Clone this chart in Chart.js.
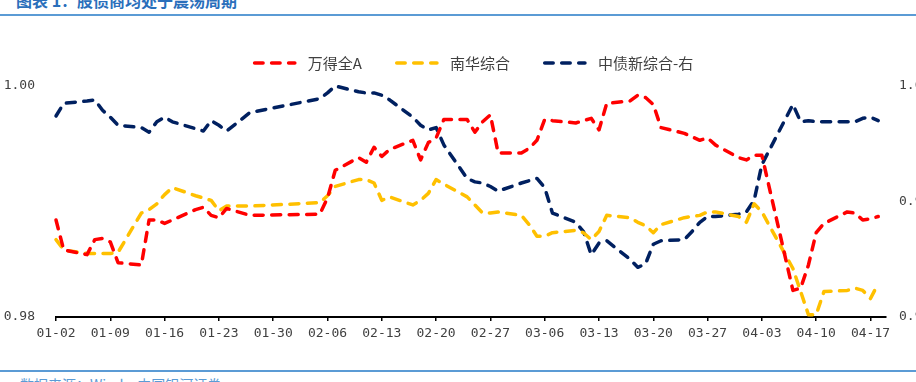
<!DOCTYPE html>
<html><head><meta charset="utf-8">
<script src="https://cdn.jsdelivr.net/npm/chart.js@4"></script>
<style>
html,body{margin:0;padding:0;background:#fff;overflow:hidden;width:916px;height:382px;}
#wrap{position:relative;width:916px;height:382px;overflow:hidden;background:#fff;}
#title{position:absolute;left:16px;top:-8px;font:bold 16px/16px "Noto Sans CJK SC";color:#2a6fbb;white-space:nowrap;}
.rule{position:absolute;left:0;width:916px;height:2px;background:#5b9bd5;}
#src{position:absolute;left:20px;top:377px;font:14px/14px "Noto Sans CJK SC";color:#5b9bd5;white-space:nowrap;}
#c{position:absolute;left:0;top:0;}
</style></head>
<body><div id="wrap">
<div id="title">图表 1：股债商均处于震荡周期</div>
<div class="rule" style="top:14px"></div>
<div class="rule" style="top:370px"></div>
<div id="src">数据来源：Wind，中国银河证券</div>
<canvas id="c" width="960" height="382"></canvas>
</div>
<script>
const dates = ["01-02","01-03","01-06","01-07","01-08","01-09","01-10","01-13","01-14","01-15","01-16","01-17","01-20","01-21","01-22","01-23","01-24","01-27",
"02-05","02-06","02-07","02-10","02-11","02-12","02-13","02-14","02-17","02-18","02-19","02-20","02-21","02-24","02-25","02-26","02-27","02-28",
"03-03","03-04","03-05","03-06","03-07","03-10","03-11","03-12","03-13","03-14","03-17","03-18","03-19","03-20","03-21","03-24","03-25","03-26","03-27","03-28","03-31",
"04-01","04-02","04-03","04-07","04-08","04-09","04-10","04-11","04-14","04-15","04-16","04-17","04-18"];

const windA = [0.9884,0.9858,0.9854,0.9867,0.9868,0.9865,0.9847,0.9845,0.9884,0.9884,0.9881,0.9884,0.9893,0.9895,0.9888,0.9886,0.9894,0.9888,
0.9889,0.9903,0.9927,0.9938,0.9934,0.9947,0.9939,0.9945,0.9953,0.9936,0.9951,0.9955,0.9971,0.9971,0.9960,0.9969,0.9975,0.9942,
0.9942,0.9946,0.9953,0.9971,0.9970,0.9968,0.9970,0.9972,0.9962,0.9985,0.9987,0.9992,0.9990,0.9984,0.9964,0.9959,0.9956,0.9953,0.9955,0.9949,0.9938,
0.9936,0.9940,0.9940,0.9823,0.9825,0.9845,0.9873,0.9881,0.9891,0.9890,0.9884,0.9885,0.9887];

const nanhua = [0.9867,0.9858,0.9855,0.9855,0.9855,0.9855,0.9856,0.9890,0.9893,0.9898,0.9906,0.9912,0.9905,0.9903,0.9901,0.9892,0.9896,0.9896,
0.9899,0.9905,0.9913,0.9919,0.9919,0.9916,0.9901,0.9904,0.9897,0.9901,0.9907,0.9919,0.9915,0.9904,0.9897,0.9890,0.9890,0.9891,
0.9888,0.9880,0.9870,0.9870,0.9873,0.9875,0.9873,0.9867,0.9874,0.9888,0.9886,0.9882,0.9879,0.9873,0.9880,0.9886,0.9887,0.9888,0.9891,0.9891,0.9887,
0.9882,0.9898,0.9891,0.9842,0.9822,0.9802,0.9802,0.9822,0.9823,0.9825,0.9823,0.9816,0.9829];

const bond = [0.9974,0.9985,0.9987,0.9988,0.9979,0.9973,0.9966,0.9964,0.9960,0.9969,0.9973,0.9969,0.9963,0.9961,0.9970,0.9966,0.9961,0.9977,
0.9989,0.9994,1.0000,0.9995,0.9994,0.9994,0.9992,0.9988,0.9973,0.9966,0.9962,0.9964,0.9949,0.9920,0.9917,0.9916,0.9913,0.9909,
0.9916,0.9918,0.9920,0.9912,0.9890,0.9882,0.9874,0.9854,0.9864,0.9866,0.9850,0.9843,0.9846,0.9863,0.9866,0.9867,0.9874,0.9882,0.9887,0.9887,0.9889,
0.9891,0.9901,0.9932,0.9984,0.9969,0.9970,0.9969,0.9969,0.9969,0.9969,0.9972,0.9973,0.9970];

const seriesNames = ["万得全A","南华综合","中债新综合-右"];
const seriesColors = ["#FF0000","#FFC000","#002060"];
const xTickLabels = ["01-02","01-09","01-16","01-23","01-30","02-06","02-13","02-20","02-27","03-06","03-13","03-20","03-27","04-03","04-10","04-17"];
const leftTicks = [0.98, 1.00];
const rightTicks = [0.98, 0.99, 1.00];
const xEnd = "04-19";

const dayOf = s => (Date.UTC(2025, +s.slice(0,2)-1, +s.slice(3)) - Date.UTC(2025,0,2)) / 86400000;
const toPts = arr => dates.map((d,i) => ({x: dayOf(d), y: arr[i]}));

const DASH = [9, 8.5];
const mk = (i, arr, axis) => ({
  label: seriesNames[i], data: toPts(arr), yAxisID: axis,
  borderColor: seriesColors[i], backgroundColor: seriesColors[i],
  borderWidth: 3.5, borderDash: DASH, borderCapStyle: 'round', borderJoinStyle: 'round',
  pointRadius: 0, tension: 0, clip: 6
});

const legendPlugin = {
  id: 'customLegend',
  afterDraw(chart) {
    const ctx = chart.ctx;
    ctx.save();
    ctx.font = '15px "Noto Sans CJK SC"';
    const sw = 42, g1 = 13, g2 = 33;
    const ws = seriesNames.map(n => ctx.measureText(n).width);
    const total = ws.reduce((a,b)=>a+b,0) + 3*(sw+g1) + 2*g2;
    let x = (chart.chartArea.left + chart.chartArea.right)/2 - total/2 + 2;
    const y = 63;
    seriesNames.forEach((n,i) => {
      ctx.strokeStyle = seriesColors[i];
      ctx.lineWidth = 3.5;
      ctx.lineCap = 'round';
      ctx.setLineDash([8.5, 8.5]);
      ctx.beginPath(); ctx.moveTo(x+1.75, y); ctx.lineTo(x+sw, y); ctx.stroke();
      ctx.setLineDash([]);
      ctx.fillStyle = '#404040';
      ctx.textBaseline = 'middle';
      ctx.textAlign = 'left';
      ctx.fillText(n, x+sw+g1, y);
      x += sw + g1 + ws[i] + g2;
    });
    ctx.restore();
  }
};

const tickFont = {family: '"DejaVu Sans Mono"', size: 13};

new Chart(document.getElementById('c'), {
  type: 'line',
  data: { datasets: [ mk(0, windA, 'yL'), mk(1, nanhua, 'yL'), mk(2, bond, 'yR') ] },
  options: {
    responsive: false, animation: false, devicePixelRatio: 1,
    layout: { padding: { top: 86, left: 0, right: 0, bottom: 0 } },
    plugins: { legend: { display: false }, tooltip: { enabled: false } },
    scales: {
      x: {
        type: 'linear', min: 0, max: dayOf(xEnd),
        afterBuildTicks: s => { s.ticks = xTickLabels.map(l => ({value: dayOf(l)})); },
        afterFit: s => { s.height = 65; },
        ticks: { callback: (v, i) => xTickLabels[i], font: tickFont, color: '#404040', padding: 5, maxRotation: 0, autoSkip: false },
        grid: { display: true, drawOnChartArea: false, drawTicks: true, tickLength: 4, color: '#000', lineWidth: 1.5 },
        border: { display: true, color: '#000', width: 2 }
      },
      yL: {
        position: 'left', min: 0.98, max: 1.00,
        afterBuildTicks: s => { s.ticks = leftTicks.map(v => ({value: v})); },
        afterFit: s => { s.width = 56; },
        ticks: { callback: v => v.toFixed(2), font: tickFont, color: '#404040', padding: 21 },
        grid: { display: false, drawTicks: false }, border: { display: false }
      },
      yR: {
        position: 'right', min: 0.98, max: 1.00,
        afterBuildTicks: s => { s.ticks = rightTicks.map(v => ({value: v})); },
        afterFit: s => { s.width = 74; },
        ticks: { callback: v => v.toFixed(2), font: tickFont, color: '#404040', padding: 13 },
        grid: { display: false, drawTicks: false }, border: { display: false }
      }
    }
  },
  plugins: [legendPlugin]
});
</script>
</body></html>
